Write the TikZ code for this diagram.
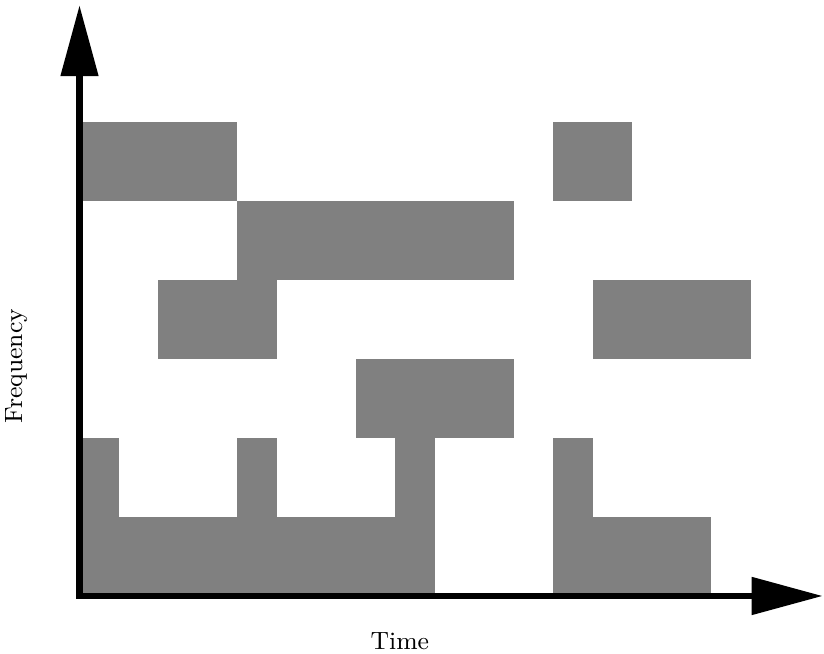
\documentclass[tikz,border=0pt]{standalone}
\usepackage{xcolor}
\usepackage{tikz}
\usetikzlibrary{arrows.meta,positioning}

\begin{document}
\begin{tikzpicture}[
  x=0.5cm, y=0.5cm,
  every node/.style={font=\small},
  block/.style={fill=gray},
  axis/.style={line width=2.5pt, miter limit=4, {Triangle[length=0.9cm,width=0.46cm]}-{Triangle[length=0.9cm,width=0.46cm]}}
]
\useasboundingbox (-2.013,-1.468) rectangle (18.85,15.09);

% time-frequency blocks: x0/y0/x1/y1
\foreach \xa/\ya/\xb/\yb in {
  0/10/4/12, 12/10/14/12,
  4/8/11/10,
  2/6/5/8, 13/6/17/8,
  7/4/11/6,
  0/0/9/2, 12/0/16/2,
  0/2/1/4, 4/2/5/4, 8/2/9/4, 12/2/13/4}
  \fill[block] (\xa,\ya) rectangle (\xb,\yb);

% axes
\coordinate (origin) at (0,0);
\coordinate (freqtip) at (0,14.96);
\coordinate (timetip) at (18.82,0);
\draw[axis] (freqtip) -- (origin) -- (timetip);

\node[rotate=90] (freqlabel) at (-1.6,5.82) {Frequency};
\node[anchor=base] (timelabel) at (8.11,-1.367) {Time};
\end{tikzpicture}
\end{document}
